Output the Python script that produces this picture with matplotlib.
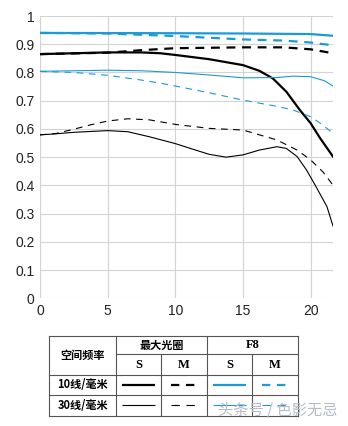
import matplotlib.pyplot as plt

plt.rcParams['font.family'] = ['Liberation Sans', 'DejaVu Sans']

BLUE = '#1b9ad8'

# MTF values against distance from image centre (mm)
x_max_10s = [0, 5, 7.5, 8.9, 10, 12.5, 15, 16.2, 17.2, 18.2, 19.2, 20, 20.7, 21.65]
y_max_10s = [0.865, 0.871, 0.871, 0.868, 0.862, 0.847, 0.826, 0.806, 0.779, 0.732, 0.667, 0.62, 0.567, 0.502]

x_max_10m = [0, 5, 7.5, 10, 15, 18, 20, 21.65]
y_max_10m = [0.865, 0.87, 0.879, 0.886, 0.889, 0.889, 0.882, 0.868]

x_f8_10s = [0, 10, 15, 20, 21.65]
y_f8_10s = [0.94, 0.939, 0.938, 0.936, 0.93]

x_f8_10m = [0, 5, 10, 15, 18, 20, 21.65]
y_f8_10m = [0.94, 0.938, 0.929, 0.917, 0.913, 0.906, 0.896]

x_f8_30s = [0, 5, 7.5, 10, 12.5, 15, 17.5, 18.7, 20, 21, 21.65]
y_f8_30s = [0.804, 0.808, 0.806, 0.8, 0.791, 0.781, 0.782, 0.787, 0.785, 0.771, 0.752]

x_f8_30m = [0, 2.5, 5, 7.5, 8.9, 10, 12.5, 15, 17.5, 18.7, 20, 20.9, 21.65]
y_f8_30m = [0.804, 0.8, 0.79, 0.773, 0.762, 0.752, 0.728, 0.702, 0.68, 0.667, 0.643, 0.614, 0.584]

x_max_30m = [0, 1.2, 2.5, 3.7, 5, 6.5, 8.1, 10, 12.5, 15, 17.5, 19, 20, 20.9, 21.65]
y_max_30m = [0.579, 0.584, 0.599, 0.614, 0.628, 0.636, 0.632, 0.616, 0.602, 0.596, 0.561, 0.525, 0.49, 0.448, 0.401]

x_max_30s = [0, 1, 2.5, 5, 6.5, 8.1, 10, 11.3, 12.5, 13.75, 15, 16.2, 17.5, 18.2, 19, 19.7, 20.4, 21.2, 21.65]
y_max_30s = [0.579, 0.582, 0.588, 0.594, 0.59, 0.572, 0.548, 0.528, 0.51, 0.5, 0.508, 0.525, 0.537, 0.531, 0.502, 0.454, 0.395, 0.325, 0.256]

fig = plt.figure(figsize=(3.48, 4.26), dpi=100)
ax = fig.add_axes([40 / 348, 1 - 298.3 / 426, 293 / 348, 282.3 / 426])

thick = 1.6
thin = 0.8
ax.plot(x_f8_10s, y_f8_10s, color=BLUE, lw=thick)
ax.plot(x_f8_10m, y_f8_10m, color=BLUE, lw=thick, dashes=(4, 3))
ax.plot(x_max_10m, y_max_10m, color='black', lw=thick, dashes=(4, 3))
ax.plot(x_max_10s, y_max_10s, color='black', lw=thick)
ax.plot(x_f8_30s, y_f8_30s, color=BLUE, lw=thin)
ax.plot(x_f8_30m, y_f8_30m, color=BLUE, lw=thin, dashes=(6, 5))
ax.plot(x_max_30m, y_max_30m, color='black', lw=thin, dashes=(6, 5))
ax.plot(x_max_30s, y_max_30s, color='black', lw=thin)

ax.set_xlim(0, 21.65)
ax.set_ylim(0, 1)
ax.set_xticks([0, 5, 10, 15, 20])
ax.set_yticks([i / 10 for i in range(11)])
ax.set_yticklabels(['0', '0.1', '0.2', '0.3', '0.4', '0.5', '0.6', '0.7', '0.8', '0.9', '1'])
ax.grid(True, color='#d3d3d3', lw=0.8)
ax.set_axisbelow(True)
for s in ax.spines.values():
    s.set_visible(False)
ax.tick_params(length=0, labelsize=10, colors='#222222', pad=4)

# table drawn in pixel coordinates
tb = fig.add_axes([0, 0, 1, 1])
tb.set_xlim(0, 348)
tb.set_ylim(426, 0)
tb.axis('off')

cols = [49.3, 116, 160.7, 206.7, 252.3, 298]
rows = [335.7, 354.3, 375, 395, 415.7]
lc = '#555555'
for yy in [rows[0], rows[2], rows[3], rows[4]]:
    tb.plot([cols[0], cols[-1]], [yy, yy], color=lc, lw=0.8)
tb.plot([cols[1], cols[-1]], [rows[1], rows[1]], color=lc, lw=0.8)
for xx in [cols[0], cols[1], cols[3], cols[5]]:
    tb.plot([xx, xx], [rows[0], rows[4]], color=lc, lw=0.8)
for xx in [cols[2], cols[4]]:
    tb.plot([xx, xx], [rows[1], rows[4]], color=lc, lw=0.8)

cjk = ['Noto Sans CJK SC', 'DejaVu Sans']
serif = ['Liberation Serif', 'DejaVu Serif']
tb.text((cols[0] + cols[1]) / 2, (rows[0] + rows[2]) / 2, '空间频率',
        ha='center', va='center', fontsize=8, family=cjk, weight='bold')
tb.text((cols[1] + cols[3]) / 2, (rows[0] + rows[1]) / 2, '最大光圈',
        ha='center', va='center', fontsize=8, family=cjk, weight='bold')
tb.text((cols[3] + cols[5]) / 2, (rows[0] + rows[1]) / 2, 'F8',
        ha='center', va='center', fontsize=9, family=serif, weight='bold')
for i, lab in enumerate(['S', 'M', 'S', 'M']):
    tb.text((cols[i + 1] + cols[i + 2]) / 2, (rows[1] + rows[2]) / 2, lab,
            ha='center', va='center', fontsize=9, family=serif, weight='bold')
for r, lab in [(2, '10线/毫米'), (3, '30线/毫米')]:
    tb.text((cols[0] + cols[1]) / 2, (rows[r] + rows[r + 1]) / 2, lab,
            ha='center', va='center', fontsize=8, family=cjk, weight='bold')

styles = [('black', None), ('black', (4, 3)), (BLUE, None), (BLUE, (4, 3))]
for r, w in [(2, thick), (3, thin)]:
    yy = (rows[r] + rows[r + 1]) / 2
    for i, (c, d) in enumerate(styles):
        x0 = cols[i + 1] + 6
        x1 = cols[i + 2] - 6
        if d is None:
            tb.plot([x0, x1], [yy, yy], color=c, lw=w, solid_capstyle='butt')
        else:
            tb.plot([x0 + 4, x1 - 4], [yy, yy], color=c, lw=w,
                    dashes=(5 / w * 1.2, 4 / w * 1.2), dash_capstyle='butt')

tb.text(338, 410, '头条号 / 色影无忌', ha='right', va='center', fontsize=11,
        family=cjk, color='#b4bcc8')

fig.savefig('out.png', dpi=100)
